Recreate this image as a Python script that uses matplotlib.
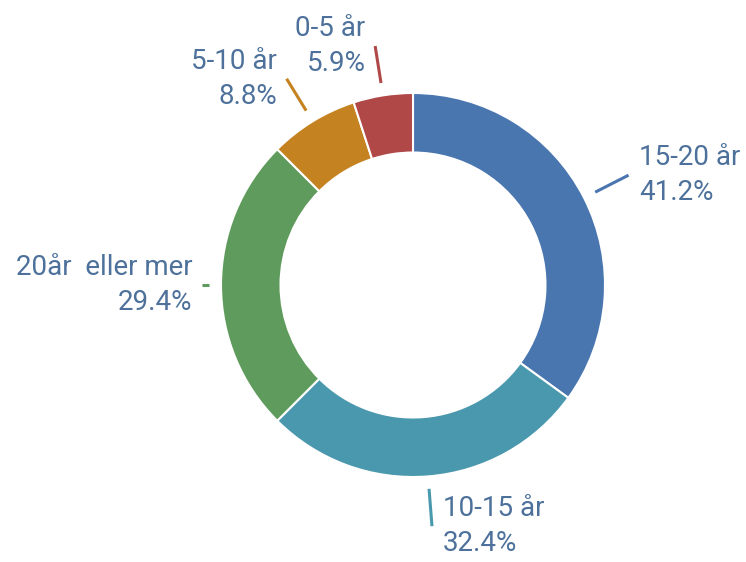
import numpy as np
import matplotlib
matplotlib.use('Agg')
import matplotlib.pyplot as plt

# data, clockwise from 12 o'clock
labels = ["15-20 år", "10-15 år", "20år  eller mer", "5-10 år", "0-5 år"]
counts = [14, 11, 10, 3, 2]
pct_labels = ["41.2%", "32.4%", "29.4%", "8.8%", "5.9%"]
colors = ["#4a76b0", "#4a98ad", "#5f9b5c", "#c58221", "#b04848"]
leader_end = [1.26, 1.26, 1.10, 1.26, 1.26]

text_color = "#4d719b"
plt.rcParams['font.family'] = ['Roboto', 'DejaVu Sans']

W, H = 746, 562
cx, cy, R = 413, 285, 192  # pixel centre and outer radius

fig = plt.figure(figsize=(W / 100, H / 100), dpi=100)
ax = fig.add_axes([0, 0, 1, 1])

wedges, _ = ax.pie(counts, colors=colors, startangle=90, counterclock=False,
                   radius=1, wedgeprops=dict(width=0.31, edgecolor='white', linewidth=1.5))

for w, lab, pct, col, r2 in zip(wedges, labels, pct_labels, colors, leader_end):
    ang = np.deg2rad((w.theta1 + w.theta2) / 2)
    c, s = np.cos(ang), np.sin(ang)
    r1 = 1.065
    ax.plot([r1 * c, r2 * c], [r1 * s, r2 * s], color=col, lw=2.2, solid_capstyle='butt')
    ex, ey = r2 * c, r2 * s
    if c >= 0:
        ha, tx = 'left', ex + 0.055
    else:
        ha, tx = 'right', ex - 0.05
    ax.text(tx, ey, lab + "\n" + pct, ha=ha, va='center', fontsize=20,
            color=text_color, linespacing=1.4, multialignment=ha)

ax.set_aspect('auto')
ax.set_xlim(-cx / R, (W - cx) / R)
ax.set_ylim(-(H - cy) / R, cy / R)
ax.axis('off')

fig.savefig("out.png", dpi=100)
